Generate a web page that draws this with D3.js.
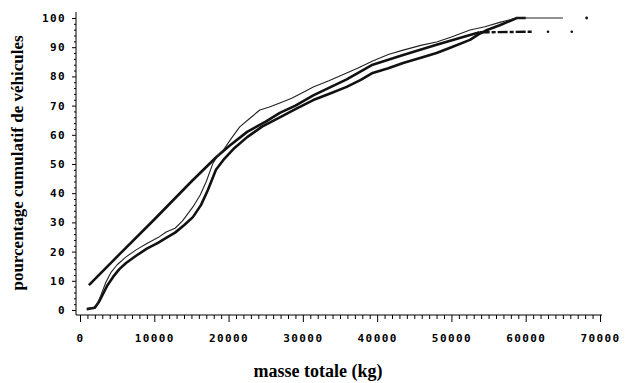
<!DOCTYPE html>
<html>
<head>
<meta charset="utf-8">
<script src="https://cdn.jsdelivr.net/npm/d3@7"></script>
<style>
body { margin: 0; background: #fff; }
svg { display: block; }
.tick text { font-family: "DejaVu Sans Mono", monospace; font-weight: bold; font-size: 11px; letter-spacing: 1.4px; fill: #000; }
.title { font-family: "Liberation Serif", "Times New Roman", serif; font-weight: bold; fill: #000; }
</style>
</head>
<body>
<svg id="chart" width="629" height="383"></svg>
<script>
// Data (masse totale kg, pourcentage cumulatif)
const empiricalThin = [
  [1000,0.5],[1800,0.8],[2300,2],[2800,5],[3500,9.6],[4200,13],[5000,15.5],[6200,18.2],[7500,20.5],
  [9000,22.8],[10500,24.8],[11600,26.7],[12800,28],[13800,30.5],[15200,35.3],[16200,39.5],[17000,44],
  [17900,50.3],[18600,53],[19300,54.8],[20300,58.5],[21500,62.7],[22800,65.5],[24200,68.5],[25500,69.5],
  [26900,70.9],[28500,72.5],[30000,74.5],[31400,76.4],[33500,78.5],[35900,81.2],[37500,83],[39400,85.3],
  [41500,87.5],[43500,89],[46000,90.7],[48000,91.8],[50000,93.5],[52500,95.9],[54500,97],[56500,98.5],
  [58800,100],[65000,100]
];
const empiricalThinEnd = [[68200,100]];
const empiricalThick = [
  [900,0.3],[2000,0.8],[2600,3],[3200,6],[3700,8.5],[4500,11.5],[5300,14],[6200,16.1],[7500,18.5],
  [9000,21],[10500,23],[11600,24.7],[12800,26.5],[14000,29],[15200,31.8],[16300,36],[17200,41],[18300,48],
  [19300,51.4],[20800,55.5],[22500,59.2],[24500,62.8],[26900,66],[29000,68.8],[31400,71.9],[33500,74],
  [35900,76.4],[37800,78.8],[39400,81.2],[41500,82.8],[43500,84.6],[46000,86.5],[48000,88],[50000,90],
  [52500,92.5],[53700,94.5],[54800,95.9],[56500,97.5],[58800,100],[60000,100]
];
const model = [
  [1200,8.5],[5000,18.3],[10000,31],[15000,44],[18400,52.5],[20000,56],[22500,61],[25000,64.5],
  [26900,67.5],[29000,70],[31400,73.5],[35900,79],[39400,84],[43500,87.3],[48000,90.8],[52500,94.2],
  [53800,95.1]
];
const modelTail = [[53800,95.1],[61000,95.3]];
const modelTailDots = [[63000,95.3],[66200,95.3]];
const xTicks = [0,10000,20000,30000,40000,50000,60000,70000];
const yTicks = [0,10,20,30,40,50,60,70,80,90,100];

const svg = d3.select("#chart");
const x = d3.scaleLinear().domain([0,70000]).range([80,600]);
const y = d3.scaleLinear().domain([0,100]).range([310,18]);

// axes lines
const axisY = 315, axisX = 76;
svg.append("line").attr("x1",axisX).attr("x2",602).attr("y1",axisY).attr("y2",axisY).attr("stroke","#000").attr("stroke-width",1);
svg.append("line").attr("x1",axisX).attr("x2",axisX).attr("y1",12).attr("y2",axisY).attr("stroke","#000").attr("stroke-width",1);

// x axis
const gx = svg.append("g").attr("transform",`translate(0,${axisY})`)
  .call(d3.axisBottom(x).tickValues(xTicks).tickFormat(d3.format("d")).tickSize(7).tickPadding(12));
gx.select(".domain").remove();
const gxm = svg.append("g").attr("transform",`translate(0,${axisY})`)
  .call(d3.axisBottom(x).tickValues(d3.range(0,70001,1000).filter(v=>v%10000)).tickSize(4).tickFormat(""));
gxm.select(".domain").remove();

// y axis
const gy = svg.append("g").attr("transform",`translate(${axisX},0)`)
  .call(d3.axisLeft(y).tickValues(yTicks).tickSize(4).tickPadding(6));
gy.select(".domain").remove();
const gym = svg.append("g").attr("transform",`translate(${axisX},0)`)
  .call(d3.axisLeft(y).tickValues(d3.range(0,101,2).filter(v=>v%10)).tickSize(2).tickFormat(""));
gym.select(".domain").remove();

svg.selectAll(".tick line").attr("stroke","#000");

// titles
svg.append("text").attr("class","title").attr("font-size","18px").attr("x",318).attr("y",377).attr("text-anchor","middle").text("masse totale (kg)");
svg.append("text").attr("class","title").attr("font-size","17px").attr("transform","translate(23,163) rotate(-90)").attr("text-anchor","middle").text("pourcentage cumulatif de véhicules");

const line = d3.line().x(d=>x(d[0])).y(d=>y(d[1]));

svg.append("path").datum(empiricalThick).attr("d",line).attr("fill","none").attr("stroke","#111").attr("stroke-width",2.6).attr("stroke-linejoin","round");
svg.append("path").datum(model).attr("d",line).attr("fill","none").attr("stroke","#111").attr("stroke-width",2.6).attr("stroke-linejoin","round");
svg.append("path").datum(modelTail).attr("d",line).attr("fill","none").attr("stroke","#111").attr("stroke-width",2.4).attr("stroke-dasharray","10,2,4,2");
svg.selectAll(".mdot").data(modelTailDots).enter().append("circle").attr("cx",d=>x(d[0])).attr("cy",d=>y(d[1])).attr("r",1.3).attr("fill","#111");
svg.append("path").datum(empiricalThin).attr("d",line).attr("fill","none").attr("stroke","#222").attr("stroke-width",1.1).attr("stroke-linejoin","round");
svg.selectAll(".tdot").data(empiricalThinEnd).enter().append("circle").attr("cx",d=>x(d[0])).attr("cy",d=>y(d[1])).attr("r",1.4).attr("fill","#111");
</script>
</body>
</html>
